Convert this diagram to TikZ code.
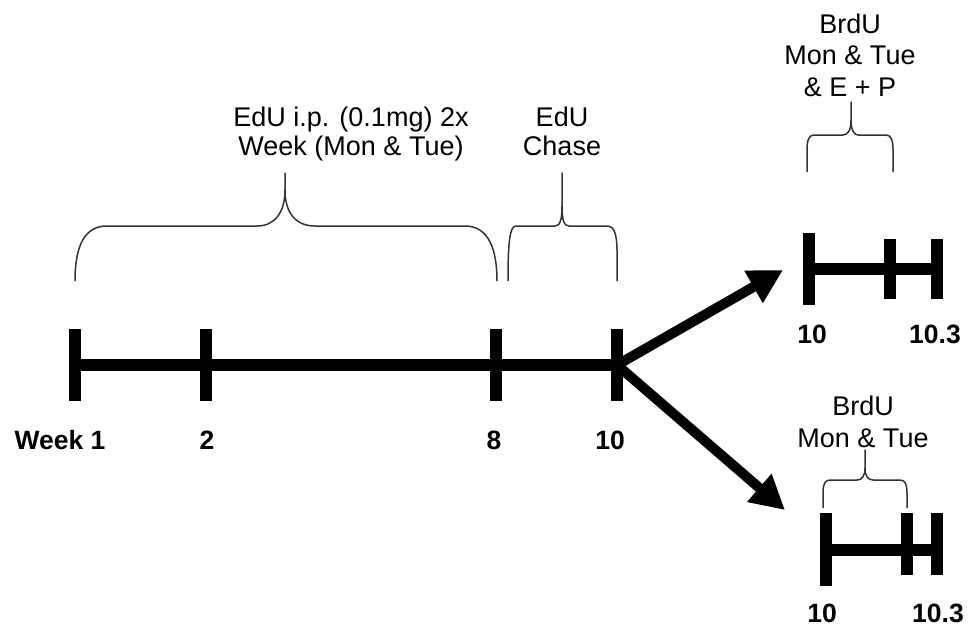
\documentclass[tikz,border=0pt]{standalone}
\usepackage{fontspec}
\setmainfont{Liberation Sans}
\usetikzlibrary{arrows.meta}
\definecolor{bracegray}{gray}{0.2}
\tikzset{
  axis/.style={line width=12pt, line cap=butt},
  tick/.style={line width=11.5pt, line cap=butt},
  brace/.style={line width=1.5pt, draw=bracegray, line join=round},
  note/.style={anchor=base, font=\fontsize{27}{30}\selectfont, inner sep=0pt},
  weeklbl/.style={anchor=base, font=\fontsize{26.5}{30}\selectfont\bfseries, inner sep=0pt},
  branch/.style={line width=10pt, -{Triangle[length=34pt,width=35pt]}},
}
\begin{document}
\begin{tikzpicture}[x=1pt,y=-1pt]
\useasboundingbox (0,0) rectangle (968,633);

% main timeline, weeks 1 to 10
\coordinate (w1) at (75,365);
\coordinate (w2) at (206,365);
\coordinate (w8) at (496,365);
\coordinate (w10) at (617,365);
\draw[axis] ([xshift=-5pt]w1) -- ([xshift=5pt]w10);
\foreach \p in {w1,w2,w8,w10}
  \draw[tick] ([yshift=-36pt]\p) -- ([yshift=36pt]\p);
\node[weeklbl] (l1) at (60,449) {Week 1};
\node[weeklbl] (l2) at (207,449) {2};
\node[weeklbl] (l8) at (494,449) {8};
\node[weeklbl] (l10) at (610,449) {10};

% upper branch, weeks 10 to 10.3
\coordinate (a0) at (809,269);
\coordinate (a1) at (890,269);
\coordinate (a2) at (937,269);
\draw[axis] ([xshift=-5pt]a0) -- ([xshift=5pt]a2);
\draw[tick] (809,233) -- (809,305);
\draw[tick] (890,239) -- (890,299);
\draw[tick] (937,239) -- (937,299);
\node[weeklbl] (la0) at (812,343) {10};
\node[weeklbl] (la2) at (935,343) {10.3};

% lower branch, weeks 10 to 10.3
\coordinate (b0) at (826,550);
\coordinate (b1) at (907,550);
\coordinate (b2) at (937,550);
\draw[axis] ([xshift=-5pt]b0) -- ([xshift=5pt]b2);
\draw[tick] (826,513) -- (826,586);
\draw[tick] (907,513) -- (907,575);
\draw[tick] (937,513) -- (937,575);
\node[weeklbl] (lb0) at (822,622) {10};
\node[weeklbl] (lb2) at (938,622) {10.3};

% branching arrows from week 10
\coordinate (ua) at (783,270);
\coordinate (da) at (785,510);
\draw[branch] (w10) -- (ua);
\draw[branch] (w10) -- (da);

% curly braces over the intervals
\draw[brace] (75,281) .. controls (75,245) and (85,226) .. (107,226)
  -- (257,226) .. controls (275,226) and (285,212) .. (285,190) -- (285,173)
  -- (285,190) .. controls (285,212) and (295,226) .. (315,226)
  -- (465,226) .. controls (489,226) and (497,250) .. (497,281);
\draw[brace] (508,281) .. controls (508,240) and (510,226) .. (516,226)
  -- (555,226) .. controls (560,226) and (562,220) .. (562,206) -- (562,173)
  -- (562,206) .. controls (562,220) and (564,226) .. (569,226)
  -- (608,226) .. controls (614,226) and (617,235) .. (617,250) -- (617,281);
\draw[brace] (807,172) -- (807,150) .. controls (807,140) and (809,135) .. (814,135)
  -- (843,135) .. controls (848,135) and (851,130) .. (851,120) -- (851,102)
  -- (851,120) .. controls (851,130) and (854,135) .. (858,135)
  -- (886,135) .. controls (891,135) and (893,140) .. (893,150) -- (893,172);
\draw[brace] (823,508) -- (823,493) .. controls (823,484) and (825,480) .. (830,480)
  -- (857,480) .. controls (862,480) and (865,476) .. (865,468) -- (865,450)
  -- (865,468) .. controls (865,476) and (868,480) .. (873,480)
  -- (900,480) .. controls (905,480) and (907,484) .. (907,493) -- (907,508);

% annotations
\node[note] (n1a) at (351,126) {EdU i.p. (0.1mg) 2x};
\node[note] (n1b) at (351,155) {Week (Mon \& Tue)};
\node[note] (n2a) at (562,126) {EdU};
\node[note] (n2b) at (562,155) {Chase};
\node[note] (n3a) at (850,33) {BrdU};
\node[note] (n3b) at (850,64) {Mon \& Tue};
\node[note] (n3c) at (850,96) {\& E + P};
\node[note] (n4a) at (863,415) {BrdU};
\node[note] (n4b) at (863,447) {Mon \& Tue};
\end{tikzpicture}
\end{document}
